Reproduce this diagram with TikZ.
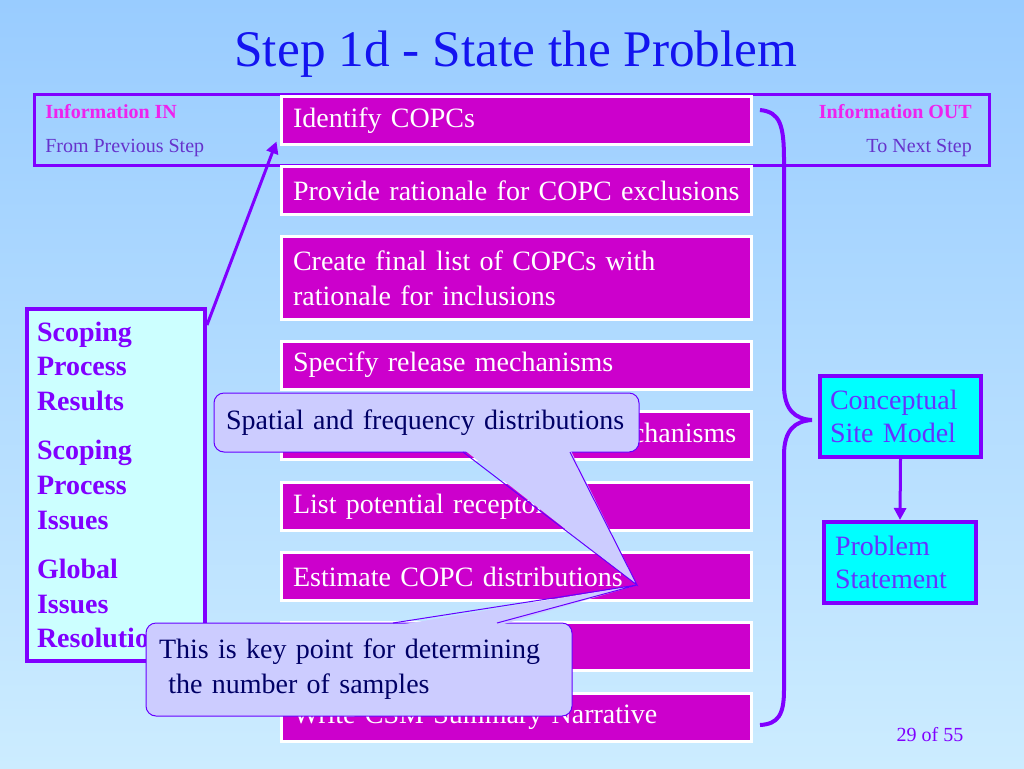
\documentclass[tikz,border=0pt]{standalone}
\usepackage{fontspec}
\setmainfont{Liberation Serif}
\usetikzlibrary{calc}
\usetikzlibrary{arrows.meta}
\definecolor{bgtop}{RGB}{153,204,255}
\definecolor{bgbot}{RGB}{204,236,255}
\definecolor{taskfill}{RGB}{204,0,204}
\definecolor{linepurple}{RGB}{128,0,255}
\definecolor{inmagenta}{RGB}{238,34,238}
\definecolor{insub}{RGB}{102,51,204}
\definecolor{titleblue}{RGB}{20,20,240}
\definecolor{scopefill}{RGB}{204,255,255}
\definecolor{csmfill}{RGB}{0,255,255}
\definecolor{csmtext}{RGB}{102,51,255}
\definecolor{callfill}{RGB}{204,204,255}
\definecolor{callline}{RGB}{102,0,255}
\definecolor{calltext}{RGB}{0,0,102}
\tikzset{
  task/.style={rectangle, fill=taskfill, draw=white, line width=2.25pt, minimum width=352.5pt,
    text width=334.5pt, inner xsep=9pt, inner ysep=0pt, align=left, text=white,
    font=\fontsize{21}{26}\selectfont},
  purplebox/.style={rectangle, draw=linepurple, line width=3pt, inner ysep=0pt, align=left},
  callbox/.style={rectangle, rounded corners=7.5pt, fill=callfill, draw=callline, line width=0.75pt,
    inner ysep=0pt, align=left, text=calltext, font=\fontsize{21}{26.25}\selectfont},
  flowline/.style={draw=linepurple, line width=2.25pt, -{Triangle[length=9pt,width=9pt]}}
}
\newcommand{\taskbox}[4]{\node[task, minimum height=#3] (#1) at (516,#2) {#4};}
\newcommand{\headtext}[5]{\node[anchor=#4, inner sep=0pt, text=#5, font=\fontsize{15}{17}\selectfont] (#1) at (#2,#3)}

\begin{document}
\begin{tikzpicture}[x=0.75pt,y=-0.75pt]
\useasboundingbox (0,0) rectangle (1024,768);
\shade[top color=bgtop, bottom color=bgbot] (0,0) rectangle (1024,768);
% title
\node[text=titleblue, font=\fontsize{38.5}{44}\selectfont] (title) at (516,54) {Step 1d - State the Problem};
% information in / out
\node[rectangle, draw=linepurple, line width=2.25pt, minimum width=716.25pt, minimum height=53.25pt] (header) at (512,130) {};
\headtext{inlab}{45}{112}{west}{inmagenta} {\bfseries Information IN};
\headtext{insub}{45}{148}{west}{insub} {From Previous Step};
\headtext{outlab}{972}{112}{east}{inmagenta} {\bfseries Information OUT};
\headtext{outsub}{972}{148}{east}{insub} {To Next Step};
% column of tasks
\taskbox{copc1}{120.5}{36pt}{Identify COPCs}
\taskbox{copc2}{190.5}{36pt}{\mbox{Provide rationale for COPC exclusions}}
\taskbox{copc3}{278}{62.25pt}{Create final list of COPCs with\\rationale for inclusions}
\taskbox{release}{365}{36pt}{Specify release mechanisms}
\taskbox{transport}{435.5}{36pt}{\mbox{Specify fate and transport mechanisms}}
\taskbox{receptor}{506.5}{36pt}{List potential receptors}
\taskbox{estimate}{576.5}{36pt}{Estimate COPC distributions}
\taskbox{blank}{646.5}{36pt}{}
\taskbox{narrative}{717.5}{36pt}{Write CSM Summary Narrative}
% scoping box on the left
\node[purplebox, fill=scopefill, minimum width=133.5pt, minimum height=264pt, text width=118.5pt,
  inner xsep=7.5pt, text=linepurple, font=\bfseries\fontsize{21}{26}\selectfont] (scope) at (116,485)
  {Scoping\\Process\\Results\\[11pt]Scoping\\Process\\Issues\\[11pt]Global\\Issues\\Resolution};
\draw[flowline] ($(scope.north east)+(0,18)$) -- ($(copc1.south west)+(-3,-4.5)$);
% brace
\draw[linepurple, line width=3pt] (760,110) .. controls (780,112) and (784,125) .. (784,160)
  -- (784,385) .. controls (784,410) and (795,419) .. (812,420)
  .. controls (795,421) and (784,430) .. (784,455)
  -- (784,690) .. controls (784,715) and (778,724) .. (760,725);
% site model
\node[purplebox, fill=csmfill, minimum width=120.75pt, minimum height=60.75pt, text width=105.75pt,
  inner xsep=7.5pt, text=csmtext, font=\fontsize{21}{24.75}\selectfont] (csm) at (900.5,416.5)
  {Conceptual\\Site Model};
\node[purplebox, fill=csmfill, minimum width=114pt, minimum height=60.75pt, text width=97.5pt,
  inner xsep=8.25pt, text=csmtext, font=\fontsize{21}{24.75}\selectfont] (prob) at (900,562.5)
  {Problem\\Statement};
\draw[flowline] (csm.south) -- (prob.north);
% page number
\node[text=linepurple, font=\fontsize{15}{17}\selectfont] (page) at (930,735) {29 of 55};
% callouts
\coordinate (tip) at (637,585);
\node[callbox, minimum width=318.75pt, minimum height=44.25pt, text width=300.75pt, inner xsep=9pt] (spatial)
  at (426.5,422.5) {Spatial and frequency distributions};
\fill[callfill] (463,449) -- (tip) -- (570,449) -- cycle;
\draw[callline, line width=0.75pt] (463,452) -- (tip) -- (570,452);
\node[callbox, minimum width=319.5pt, minimum height=69.75pt, text width=300pt, inner xsep=9.75pt] (keypoint)
  at (359,669.5) {This is key point for determining\\\ the number of samples};
\fill[callfill] (393,626) -- (tip) -- (497,626) -- cycle;
\draw[callline, line width=0.75pt] (393,623) -- (tip) -- (497,623);
\end{tikzpicture}
\end{document}
